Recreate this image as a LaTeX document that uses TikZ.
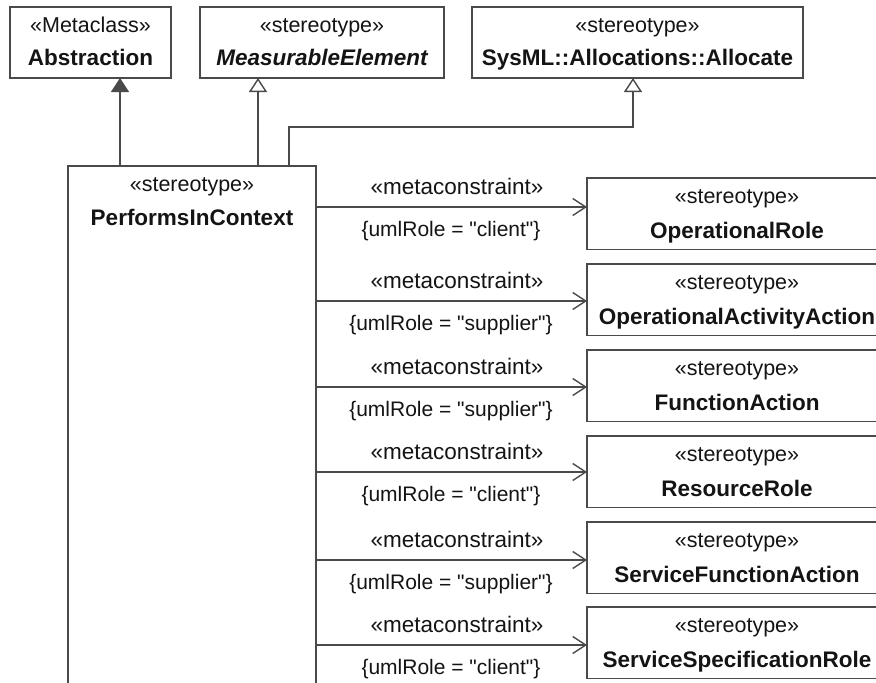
\documentclass[tikz,border=0pt]{standalone}
\usepackage{fontspec}
\setmainfont{Liberation Sans}[Ligatures=TeXOff]
\usetikzlibrary{arrows.meta}
\definecolor{linegray}{HTML}{4A4A4A}
\definecolor{txt}{HTML}{141414}
\begin{document}
\begin{tikzpicture}[x=1pt,y=-1pt,
  every node/.style={inner sep=0pt, outer sep=0pt, text=txt},
  umlbox/.style={draw=linegray, line width=1.4pt, rectangle},
  ster/.style={anchor=base, font=\fontsize{21.5}{24}\selectfont},
  nm/.style={anchor=base, font=\fontsize{22.5}{24}\selectfont\bfseries},
  lbl/.style={anchor=base, font=\fontsize{21}{24}\selectfont},
  mlbl/.style={anchor=base, font=\fontsize{22.5}{24}\selectfont},
  gen/.style={draw=linegray, line width=1.4pt, -{Triangle[open,length=14pt,width=18pt,fill=white]}},
  genfill/.style={draw=linegray, line width=1.4pt, -{Triangle[length=14pt,width=18pt]}},
  dep/.style={draw=linegray, line width=1.4pt, -{Straight Barb[length=13pt,width=17pt]}}
]
\clip (0,0) rectangle (876,683);
\fill[white] (0,0) rectangle (876,683);
% top boxes
\node[umlbox, minimum width=161pt, minimum height=71pt] (abs) at (90.5,42.5) {};
\node[ster] (absS) at (90.5,32) {«Metaclass»};
\node[nm] (absN) at (90.5,65) {Abstraction};
\node[umlbox, minimum width=244pt, minimum height=71pt] (meas) at (322,42.5) {};
\node[ster] (measS) at (322,32) {«stereotype»};
\node[nm, font=\fontsize{22.5}{24}\selectfont\bfseries\itshape] (measN) at (322,65) {MeasurableElement};
\node[umlbox, minimum width=331pt, minimum height=71pt] (alloc) at (637.5,42.5) {};
\node[ster] (allocS) at (637.5,32) {«stereotype»};
\node[nm] (allocN) at (637.5,65) {SysML::Allocations::Allocate};
% main box
\node[umlbox, minimum width=248pt, minimum height=554pt] (pin) at (192,443) {};
\node[ster] (pinS) at (192,191) {«stereotype»};
\node[nm] (pinN) at (192,225) {PerformsInContext};
% generalizations
\coordinate (a1) at (120,0);
\coordinate (a2) at (258,0);
\coordinate (a3) at (289,0);
\coordinate (a4) at (633,127);
\draw[genfill] (pin.north -| a1) -- (abs.south -| a1);
\draw[gen] (pin.north -| a2) -- (meas.south -| a2);
\draw[gen] (pin.north -| a3) |- (a4) -- (alloc.south -| a4);
% right boxes with metaconstraints
\foreach \i/\top/\ay/\name/\role in {
  1/178/207/OperationalRole/client,
  2/264/301/OperationalActivityAction/supplier,
  3/350/387/FunctionAction/supplier,
  4/436/472/ResourceRole/client,
  5/522/560/ServiceFunctionAction/supplier,
  6/607/645/ServiceSpecificationRole/client}{
  \node[umlbox, minimum width=300pt, minimum height=71.5pt] (r\i) at (737,\top+35.75) {};
  \node[ster] (r\i s) at (737,\top+25) {«stereotype»};
  \node[nm] (r\i n) at (737,\top+60) {\name};
  \coordinate (y\i) at (0,\ay);
  \draw[dep] (pin.east |- y\i) -- (r\i.west |- y\i);
  \node[mlbl] (m\i) at (457,\ay-13) {«metaconstraint»};
  \node[lbl] (u\i) at (451,\ay+29) {\{umlRole = "\role"\}};
}
\end{tikzpicture}
\end{document}
